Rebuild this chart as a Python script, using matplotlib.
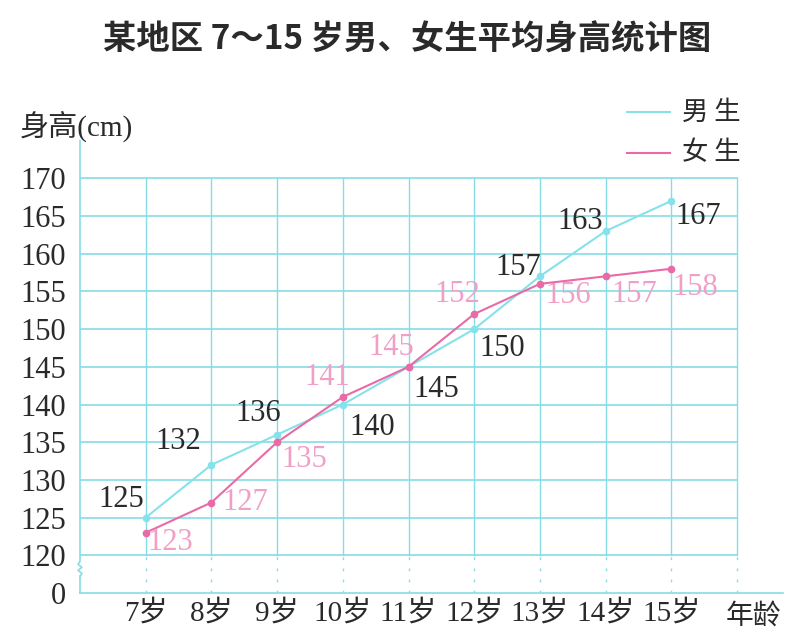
import matplotlib
matplotlib.use("Agg")
import matplotlib.pyplot as plt

ages = ['7岁', '8岁', '9岁', '10岁', '11岁', '12岁', '13岁', '14岁', '15岁']
boys = [125, 132, 136, 140, 145, 150, 157, 163, 167]
girls = [123, 127, 135, 141, 145, 152, 156, 157, 158]
y_ticks = [120, 125, 130, 135, 140, 145, 150, 155, 160, 165, 170]

GRID = '#86dde6'
BOY = '#86e2ea'
GIRL = '#ea6aa6'
GIRL_TXT = '#f0a0c6'
TXT = '#2a2a2a'
FONT = ['Liberation Serif', 'Noto Sans CJK SC']

# label offsets in pixels (dx, dy)
boy_off = [(-24, 18), (-33, 23), (-19, 21), (29, -23), (28, -23), (28, -19), (-22, 9), (-25, 10), (27, -16)]
girl_off = [(25, -10), (34, 0), (27, -17), (-16, 19), (-17, 19), (-17, 20), (28, -12), (29, -18), (24, -19)]

fig = plt.figure(figsize=(8.1, 6.44), dpi=100)
ax = fig.add_axes([80 / 810, 1 - 593 / 644, 703 / 810, (593 - 147) / 644])

xs = list(range(1, len(ages) + 1))
ybase = 115  # drawn position of the "0" tick (axis break)
px_per_unit = 37.7 / 5
ax.set_xlim(0, 703 / 65.7)
ax.set_ylim(ybase, ybase + (593 - 147) / px_per_unit)

# grid
for y in y_ticks:
    ax.plot([0, 10], [y, y], color=GRID, lw=1.2, zorder=1)
for x in range(1, 11):
    ax.plot([x, x], [120, 170], color=GRID, lw=1.0, zorder=1)
    ax.plot([x, x], [ybase, 120], color=GRID, lw=1.0, ls=(0, (2, 6)), zorder=1)

for s in ['top', 'right']:
    ax.spines[s].set_visible(False)
ax.spines['left'].set_color(GRID)
ax.spines['bottom'].set_color(GRID)
ax.spines['left'].set_linewidth(1.2)
ax.spines['bottom'].set_linewidth(1.2)
ax.spines['left'].set_bounds(ybase, 117.2)

# axis break squiggle
ax.plot([0, 0.03, -0.03, 0.03, -0.03, 0.0, 0.0],
        [117.2, 117.6, 118.0, 118.4, 118.8, 119.2, 175],
        color=GRID, lw=1.2, clip_on=False, zorder=2)

ax.plot(xs, boys, color=BOY, lw=1.5, marker='o', ms=4.5, zorder=3)
ax.plot(xs, girls, color=GIRL, lw=1.5, marker='o', ms=4.5, zorder=4)

for x, v, (dx, dy) in zip(xs, boys, boy_off):
    ax.annotate(str(v), (x, v), xytext=(dx, dy), textcoords='offset pixels',
                ha='center', va='center', fontsize=22, color=TXT, family=FONT)
for x, v, (dx, dy) in zip(xs, girls, girl_off):
    ax.annotate(str(v), (x, v), xytext=(dx, dy), textcoords='offset pixels',
                ha='center', va='center', fontsize=22, color=GIRL_TXT, family=FONT)

ax.set_yticks([ybase] + y_ticks)
ax.set_yticklabels(['0'] + [str(t) for t in y_ticks], family=FONT, fontsize=22, color=TXT)
ax.set_xticks(xs)
ax.set_xticklabels(ages, family=FONT, fontsize=21, color=TXT)
ax.tick_params(length=0, pad=10)
ax.tick_params(axis='x', pad=5)

ax.text(10.25, ybase - 1.0, '年龄', ha='center', va='top',
        fontsize=20, color=TXT, family=['Noto Sans CJK SC'])
fig.text(20 / 810, 1 - 126 / 644, '身高(cm)', ha='left', va='center',
         fontsize=21, color=TXT, family=FONT)

# legend
for ly, lab, c in [(112, '男 生', BOY), (153, '女 生', GIRL)]:
    fig.add_artist(plt.Line2D([627 / 810, 670 / 810], [1 - ly / 644] * 2, color=c, lw=1.5))
    fig.text(682 / 810, 1 - ly / 644, lab, ha='left', va='center',
             fontsize=19, color=TXT, family=['Noto Sans CJK SC'])

fig.text(407 / 810, 1 - 40 / 644, '某地区 7～15 岁男、女生平均身高统计图', ha='center', va='center',
         fontsize=24, fontweight='bold', color=TXT, family=['Noto Sans CJK SC'])

fig.savefig('out.png', dpi=100)
